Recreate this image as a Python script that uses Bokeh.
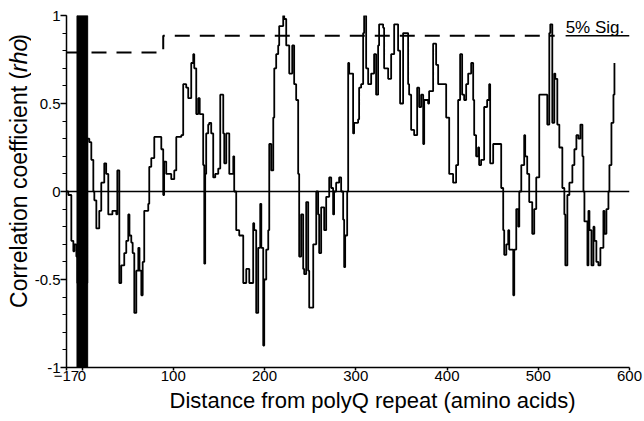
import math
from bokeh.plotting import figure
from bokeh.layouts import row, column
from bokeh.models import Span, Label, FixedTicker, Range1d, CustomJSTickFormatter
from bokeh.core.properties import value
from bokeh.embed import file_html
from bokeh.resources import INLINE

# ---- data ----
pos = [-17, -15.0, -11.7, -9.5, -8.4, -6.2, -5.1, 5.8, 8.0, 10.2, 12.4, 13.5, 15.7, 18.9, 21.1,
       24.4, 26.5, 28.8, 33.3, 37.6, 38.7, 40.9, 43.0, 46.3, 48.5, 50.7, 52.0, 54.0, 55.5, 57.3,
       59.5, 61.7, 63.0, 65.0, 66.5, 68.2, 72.6, 73.7, 75.9, 79.2, 83.6, 86.9, 89.0, 90.0, 92.3,
       97.8, 101.1, 103.3, 108.8, 110.9, 114.2, 116.4, 119.7, 121.9, 123.0, 125.2, 127.4, 129.0,
       130.7, 132.8, 134.0, 135.0, 136.1, 138.3, 139.4, 141.6, 143.8, 146.0, 149.3, 151.5, 154.8,
       155.9, 158.1, 161.4, 165.8, 166.8, 169.0, 172.3, 176.7, 180.0, 183.3, 187.6, 188.7, 190.9,
       193.1, 195.3, 196.5, 198.6, 199.7, 201.9, 204.1, 205.2, 207.4, 209.6, 210.7, 212.8, 215.0,
       216.1, 220.5, 221.6, 223.8, 226.0, 227.1, 230.4, 232.5, 234.7, 236.9, 238.0, 240.2, 242.4,
       243.5, 245.7, 247.9, 249.0, 251.0, 253.4, 256.7, 258.8, 259.9, 262.1, 265.4, 267.6, 270.9,
       273.1, 275.2, 276.3, 278.5, 281.8, 284.0, 286.2, 287.3, 288.4, 290.6, 291.7, 292.8, 295.0,
       297.1, 298.2, 302.6, 303.7, 305.9, 308.1, 309.2, 311.4, 313.6, 316.9, 320.1, 322.3, 324.5,
       325.6, 330.0, 331.1, 335.5, 338.8, 342.1, 346.4, 348.6, 351.9, 355.2, 357.4, 358.5, 360.7,
       364.0, 367.3, 369.5, 371.7, 373.9, 375.0, 379.3, 380.4, 384.8, 388.1, 390.3, 396.9, 399.1,
       402.4, 406.7, 410.0, 412.2, 414.4, 416.6, 418.8, 421.0, 423.2, 426.5, 428.7, 429.8, 431.9,
       434.1, 435.2, 437.4, 440.7, 444.0, 446.2, 447.3, 450.6, 456.1, 459.4, 461.6, 462.7, 465.0,
       467.1, 468.2, 472.6, 473.7, 475.9, 478.1, 479.2, 481.4, 484.6, 485.7, 487.9, 490.1, 493.4,
       495.6, 497.8, 501.1, 505.5, 508.8, 509.9, 512.1, 513.2, 515.4, 517.6, 518.7, 520.9, 523.1,
       526.4, 528.6, 529.7, 531.9, 534.1, 537.4, 539.6, 541.8, 544.0, 546.2, 548.4, 549.5, 550.6,
       553.9, 555.0, 556.1, 558.3, 560.5, 561.6, 563.7, 565.9, 568.1, 571.4, 572.5, 574.7, 576.9,
       578.0, 580.2, 582.4, 583.5]
rho = [0.0, -0.02, -0.28, -0.34, -0.30, -0.37, -0.52, 0.30, 0.28, 0.18, 0.0, -0.05, -0.21, -0.11, 0.05,
       0.16, 0.10, -0.13, -0.11, -0.13, 0.12, -0.52, -0.42, -0.35, -0.28, -0.13, -0.25, -0.29, -0.35, -0.69,
       -0.45, -0.32, -0.45, -0.59, -0.40, -0.11, -0.07, 0.14, 0.19, 0.31, 0.31, 0.24, -0.02, 0.17, 0.10,
       0.07, 0.12, 0.31, 0.32, 0.61, 0.59, 0.53, 0.73, 0.78, 0.70, 0.44, 0.53, 0.44,
       0.44, 0.15, -0.41, 0.10, 0.33, 0.38, 0.39, 0.33, 0.08, 0.10, 0.13, 0.55, 0.33,
       0.16, 0.33, 0.10, 0.20, 0.0, -0.22, -0.25, -0.52, -0.44, -0.52, -0.18, -0.22, -0.69,
       -0.32, -0.07, -0.32, -0.875, -0.50, -0.33, -0.22, 0.27, 0.12, 0.42, 0.70, 0.78, 0.83,
       0.94, 1.0, 0.98, 0.83, 0.83, 0.67, 0.83, 0.61, 0.52, 0.10, -0.37, -0.13, -0.44,
       -0.47, -0.06, -0.45, -0.66, -0.66, -0.30, 0.0, -0.13, -0.35, -0.09, -0.22, -0.03, 0.08,
       0.02, -0.13, 0.0, 0.05, 0.08, 0.0, -0.16, -0.43, -0.25, 0.0, 0.73, 0.67, 0.67,
       0.33, 0.39, 0.41, 0.59, 0.61, 0.90, 1.0, 0.70, 0.61, 0.67, 0.78, 0.55, 0.83,
       0.95, 0.93, 0.70, 0.64, 0.78, 0.95, 0.80, 0.50, 0.90, 0.90, 0.61, 0.55, 0.35,
       0.32, 0.59, 0.48, 0.55, 0.27, 0.52, 0.50, 0.57, 0.84, 0.72, 0.61, 0.61, 0.42,
       0.10, 0.05, 0.15, 0.52, 0.78, 0.55, 0.52, 0.61, 0.67, 0.73, 0.52, 0.32, 0.20,
       0.25, 0.15, 0.18, 0.48, 0.52, 0.61, 0.16, 0.27, 0.27, 0.02, -0.22, -0.36, -0.30,
       -0.22, -0.33, -0.59, -0.33, -0.10, -0.20, 0.0, 0.15, 0.32, 0.20, 0.10, -0.06, -0.24,
       -0.10, 0.08, 0.55, 0.55, 0.55, 0.38, 0.90, 0.95, 0.39, 0.67, 0.64, 0.38, 0.25,
       0.02, -0.13, -0.42, -0.02, 0.05, 0.15, 0.24, 0.32, 0.30, 0.38, 0.20, 0.0, -0.17,
       -0.42, -0.11, -0.22, -0.42, -0.20, -0.28, -0.40, -0.42, -0.32, -0.11, -0.24, -0.10, 0.0,
       0.15, 0.39, 0.55, 0.73]

polyq_region = [-5.5, 6.2]          # solid black band (from, to)
sig_pos = [-17, 89, 518]            # 5% significance threshold steps
sig_rho = [0.79, 0.885, 0.885]
sig_label = "5% Sig."
x_ticks = [-17, 0, 100, 200, 300, 400, 500, 600]
y_ticks = [-1, -0.5, 0, 0.5, 1]
x_title = "Distance from polyQ repeat (amino acids)"
y_title_parts = ["Correlation coefficient (", "rho", ")"]

FONT = "Liberation Sans"
X0, X1, Y0, Y1 = -17, 600, -1, 1
FRAME_H = 352
px_y = (Y1 - Y0) / FRAME_H

YLAB_W = 31
MAIN_W = 644 - YLAB_W
MAIN_H = 387
XLAB_H = 421 - MAIN_H


def bare(w, h):
    f = figure(width=w, height=h, x_range=Range1d(0, w), y_range=Range1d(0, h),
               output_backend="svg", toolbar_location=None,
               x_axis_location=None, y_axis_location=None,
               min_border=0, min_border_left=0, min_border_right=0,
               min_border_top=0, min_border_bottom=0)
    f.outline_line_color = None
    f.grid.visible = False
    f.background_fill_color = "white"
    f.border_fill_color = "white"
    return f


p = figure(width=MAIN_W, height=MAIN_H, x_range=Range1d(X0, X1), y_range=Range1d(Y0, Y1),
           output_backend="svg", toolbar_location=None,
           min_border_left=66 - YLAB_W, min_border_right=15, min_border_top=15,
           min_border_bottom=MAIN_H - 15 - FRAME_H)
p.outline_line_color = None
p.grid.visible = False
p.background_fill_color = "white"
p.border_fill_color = "white"

# axes
p.xaxis.ticker = FixedTicker(ticks=x_ticks)
p.yaxis.ticker = FixedTicker(ticks=y_ticks, minor_ticks=[round(-1 + 0.1 * i, 1) for i in range(21)])
p.yaxis.formatter = CustomJSTickFormatter(code="return tick.toString();")
for ax in (p.xaxis[0], p.yaxis[0]):
    ax.axis_line_color = "black"
    ax.axis_line_width = 1.5
    ax.major_tick_line_color = "black"
    ax.major_tick_line_width = 1.5
    ax.major_tick_in = 0
    ax.minor_tick_in = 0
    ax.major_label_text_font = FONT
    ax.major_label_text_font_size = "15px"
    ax.major_label_text_color = "black"
    ax.major_label_standoff = 0
p.xaxis.major_tick_out = 3
p.xaxis.minor_tick_line_color = None
p.yaxis.major_tick_out = 6
p.yaxis.minor_tick_out = 4
p.yaxis.minor_tick_line_color = "black"
p.yaxis.minor_tick_line_width = 1.2

# zero line
p.add_layout(Span(location=0, dimension="width", line_color="black", line_width=1.5))

# significance threshold
p.step(sig_pos, sig_rho, mode="after", line_color="black", line_width=2, line_dash="15 10")
p.line([530, 600], [sig_rho[-1], sig_rho[-1]], line_color="black", line_width=1.5)
p.add_layout(Label(x=530, y=sig_rho[-1] + 8 * px_y, text=sig_label, text_font=FONT,
                   text_font_size="17px", text_color="black", text_baseline="middle"))

# data
p.step(pos, rho, mode="after", line_color="black", line_width=1.8)
p.quad(left=[polyq_region[0]], right=[polyq_region[1]], bottom=[-1], top=[1],
       fill_color="black", line_color="black")

# y title strip (left): pieces joined at the start of the italic "rho"
ylab = bare(YLAB_W, MAIN_H)
fs = 23
joint = MAIN_H - 62            # where "rho" starts
rho_w = 1.445 * fs
common = dict(angle=math.pi / 2, text_font=value(FONT), text_font_size=f"{fs}px",
              text_baseline="middle", text_color="black")
ylab.text(x=[18], y=[joint], text=[y_title_parts[0]], text_align="right",
          text_font_style="normal", **common)
ylab.text(x=[18], y=[joint], text=[y_title_parts[1]], text_align="left",
          text_font_style="italic", **common)
ylab.text(x=[18], y=[joint + rho_w], text=[y_title_parts[2]], text_align="left",
          text_font_style="normal", **common)

# x title strip (bottom)
xlab = bare(644, XLAB_H)
xlab.text(x=[372], y=[421 - 400], text=[x_title], text_font=value(FONT),
          text_font_size="22px", text_align="center", text_baseline="middle",
          text_color="black")

layout = column(row(ylab, p, spacing=0), xlab, spacing=0)
open("out.html", "w").write(file_html(layout, INLINE))
